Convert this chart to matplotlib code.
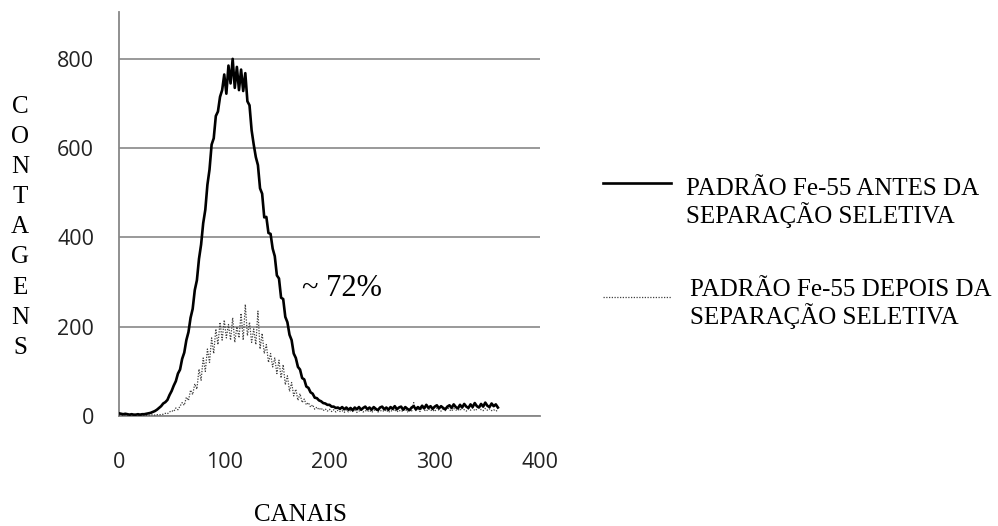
import numpy as np
import matplotlib.pyplot as plt
from matplotlib.lines import Line2D

# canais 0..360, de 2 em 2
canais = list(range(0, 362, 2))

antes = [6, 5, 4, 5, 4, 3, 4, 3, 3, 4, 3, 4, 4, 5, 6, 7, 9, 11, 14, 18,
         22, 28, 31, 36, 47, 56, 68, 78, 95, 104, 128, 142, 170, 188, 220, 240, 282, 304, 352, 384,
         432, 462, 518, 552, 608, 622, 672, 682, 715, 730, 765, 722, 785, 745, 800, 735, 782, 730, 776, 728,
         768, 705, 696, 640, 608, 580, 562, 510, 498, 445, 446, 410, 408, 375, 358, 315, 308, 265, 262, 222,
         210, 182, 170, 140, 130, 110, 104, 85, 82, 66, 63, 53, 50, 41, 40, 35, 33, 29, 28, 25,
         25, 21, 21, 18, 19, 16, 20, 15, 19, 14, 18, 13, 19, 15, 20, 14, 18, 21, 15, 19,
         14, 20, 16, 13, 19, 21, 15, 19, 14, 20, 16, 22, 15, 19, 21, 14, 20, 16, 13, 19,
         22, 15, 20, 16, 23, 17, 25, 18, 22, 16, 21, 24, 17, 22, 18, 15, 21, 24, 18, 26,
         20, 17, 25, 19, 27, 21, 18, 26, 20, 29, 22, 19, 27, 21, 30, 23, 20, 28, 22, 26,
         19]

depois = [2, 1, 2, 1, 2, 1, 2, 1, 2, 1, 2, 1, 2, 1, 2, 2, 3, 2, 3, 3,
          3, 4, 6, 5, 9, 12, 10, 18, 14, 22, 30, 24, 42, 35, 58, 48, 72, 60, 105, 80,
          130, 100, 150, 120, 175, 140, 195, 160, 210, 170, 215, 175, 205, 170, 220, 165, 200, 175, 230, 170,
          250, 180, 210, 165, 195, 160, 235, 150, 185, 140, 160, 120, 140, 110, 130, 95, 125, 85, 115, 70,
          90, 55, 75, 45, 60, 35, 50, 30, 38, 25, 30, 20, 25, 15, 20, 14, 18, 12, 16, 11,
          15, 10, 14, 9, 13, 10, 12, 8, 14, 9, 12, 10, 13, 8, 11, 14, 9, 12, 10, 13,
          8, 12, 15, 9, 11, 13, 10, 14, 8, 12, 11, 15, 9, 13, 10, 12, 16, 9, 14, 11,
          30, 12, 15, 10, 22, 13, 11, 16, 12, 14, 10, 18, 13, 11, 15, 12, 20, 14, 11, 17,
          13, 15, 12, 19, 14, 11, 16, 13, 18, 12, 15, 22, 14, 12, 17, 13, 16, 12, 14, 11,
          13]

yticks = [0, 200, 400, 600, 800]
xticks = [0, 100, 200, 300, 400]

cinza = '#878787'
serif = 'Liberation Serif'
sans = 'Open Sans'
pontilhado = (0, (1, 1.2))

fig = plt.figure(figsize=(9.98, 5.26), dpi=100)
W, H = 998, 526
ax = fig.add_axes([119 / W, 1 - 416 / H, 421 / W, 404 / H])

ax.plot(canais, depois, color='#404040', lw=0.9, ls=pontilhado, zorder=3)
ax.plot(canais, antes, color='black', lw=1.9, zorder=4)

ax.set_xlim(0, 400)
ax.set_ylim(0, 905)
ax.set_xticks(xticks)
ax.set_yticks(yticks)
ax.yaxis.grid(True, color=cinza, lw=1.2)
ax.set_axisbelow(True)
for s in ['top', 'right']:
    ax.spines[s].set_visible(False)
for s in ['left', 'bottom']:
    ax.spines[s].set_color(cinza)
    ax.spines[s].set_linewidth(1.3)
ax.tick_params(length=0, labelsize=15.5)
ax.tick_params(axis='x', pad=26)
ax.tick_params(axis='y', pad=18)
for lab in ax.get_xticklabels() + ax.get_yticklabels():
    lab.set_family(sans)
    lab.set_color('#222222')

# rótulo vertical, uma letra por linha
for i, letra in enumerate('CONTAGENS'):
    fig.text(20 / W, 1 - (107 + i * 30.1) / H, letra, family=serif, fontsize=18,
             ha='center', va='center')

fig.text(300 / W, 1 - 515 / H, 'CANAIS', family=serif, fontsize=18,
         ha='center', va='center')

fig.text(302 / W, 1 - 289 / H, '~ 72%', family=serif, fontsize=22,
         ha='left', va='center')

# legenda desenhada à mão
fig.add_artist(Line2D([603 / W, 671 / W], [1 - 183 / H, 1 - 183 / H],
                      color='black', lw=1.9, transform=fig.transFigure))
fig.add_artist(Line2D([603 / W, 671 / W], [1 - 297 / H, 1 - 297 / H],
                      color='#404040', lw=0.9, ls=pontilhado, transform=fig.transFigure))
fig.text(686 / W, 1 - 203 / H, 'PADRÃO Fe-55 ANTES DA\nSEPARAÇÃO SELETIVA',
         family=serif, fontsize=18, ha='left', va='center', linespacing=1.12)
fig.text(690 / W, 1 - 304 / H, 'PADRÃO Fe-55 DEPOIS DA\nSEPARAÇÃO SELETIVA',
         family=serif, fontsize=18, ha='left', va='center', linespacing=1.12)

fig.savefig('out.png', dpi=100)
